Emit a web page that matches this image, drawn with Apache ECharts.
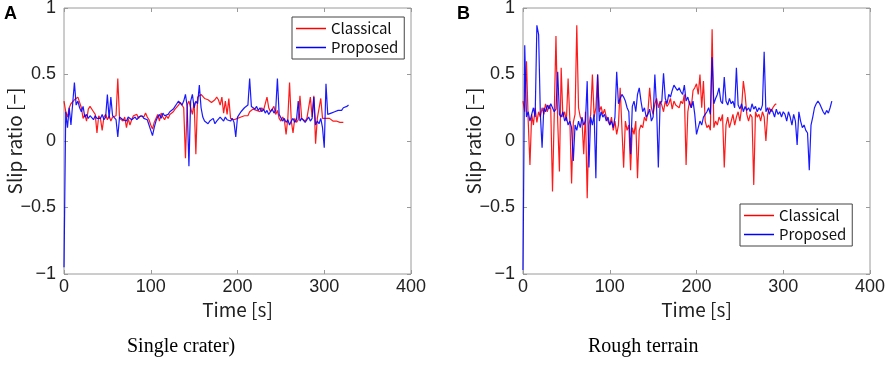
<!DOCTYPE html>
<html>
<head>
<meta charset="utf-8">
<script src="https://cdn.jsdelivr.net/npm/echarts@6/dist/echarts.min.js"></script>
<style>
  html, body { margin: 0; padding: 0; background: #fff; }
  #chart { width: 886px; height: 375px; }
</style>
</head>
<body>
<div id="chart"></div>
<script>
// sampling step of all series [s]
var TIME_STEP = 2;

var seriesNames = ['Classical', 'Proposed'];
var xTicks = [0, 100, 200, 300, 400];
var yTicks = [-1, -0.5, 0, 0.5, 1];
var panelTitles = ['Single crater)', 'Rough terrain'];

// (A) single crater, t = 0 .. 322 s
var aClassicalSlip = [
  0.30, 0.22, 0.18, 0.25, 0.28, 0.27, 0.31, 0.30, 0.33, 0.29,
  0.25, 0.17, 0.20, 0.15, 0.24, 0.26, 0.25, 0.22, 0.20, 0.06,
  0.19, 0.17, 0.08, 0.18, 0.20, 0.16, 0.19, 0.15, 0.18, 0.17,
  0.19, 0.47, 0.17, 0.18, 0.15, 0.18, 0.10, 0.17, 0.12, 0.16,
  0.19, 0.18, 0.20, 0.17, 0.19, 0.20, 0.18, 0.21, 0.18, 0.16,
  0.12, 0.09, 0.14, 0.17, 0.20, 0.15, 0.21, 0.18, 0.16, 0.19,
  0.17, 0.20, 0.19, 0.22, 0.24, 0.23, 0.27, 0.29, 0.28, 0.25,
  -0.13, 0.27, 0.30, 0.25, 0.20, 0.29, -0.10, 0.33, 0.32, 0.35,
  0.34, 0.32, 0.33, 0.31, 0.30, 0.29, 0.30, 0.31, 0.33, 0.31,
  0.27, 0.33, 0.21, 0.30, 0.20, 0.32, 0.17, 0.18, 0.16, 0.15,
  0.17, 0.16, 0.18, 0.17, 0.19, 0.20, 0.19, 0.22, 0.21, 0.24,
  0.25, 0.23, 0.24, 0.22, 0.25, 0.23, 0.24, 0.33, 0.25, 0.22,
  0.24, 0.26, 0.20, 0.23, 0.17, 0.15, 0.18, 0.16, 0.05, 0.17,
  0.44, 0.15, 0.06, 0.17, 0.14, 0.16, 0.34, 0.17, 0.18, 0.15,
  0.17, 0.16, 0.33, 0.18, 0.34, -0.02, 0.17, 0.18, 0.32, 0.17,
  0.16, 0.17, 0.16, 0.17, 0.16, 0.15, 0.16, 0.15, 0.15, 0.14,
  0.14, 0.14
];
// t = 0 .. 328 s
var aProposedSlip = [
  -0.95, 0.22, 0.10, 0.25, 0.12, 0.28, 0.44, 0.27, 0.30, 0.25,
  0.22, 0.26, 0.18, 0.20, 0.17, 0.19, 0.18, 0.16, 0.19, 0.17,
  0.18, 0.17, 0.20, 0.16, 0.18, 0.35, 0.17, 0.33, 0.19, 0.18,
  0.16, 0.03, 0.18, 0.17, 0.16, 0.17, 0.15, 0.18, 0.17, 0.16,
  0.17, 0.18, 0.16, 0.18, 0.17, 0.19, 0.17, 0.18, 0.16, 0.12,
  0.08, 0.04, 0.10, 0.15, 0.18, 0.20, 0.17, 0.21, 0.19, 0.18,
  0.20, 0.22, 0.21, 0.24, 0.26, 0.28, 0.30, 0.29, 0.27, 0.30,
  0.35, 0.26, -0.19, 0.30, 0.35, 0.25, 0.30, 0.28, 0.42, 0.25,
  0.18, 0.15, 0.16, 0.13, 0.15, 0.14, 0.17, 0.13, 0.15, 0.16,
  0.18, 0.17, 0.15, 0.18, 0.16, 0.17, 0.15, 0.17, 0.14, 0.03,
  0.18, 0.20, 0.22, 0.21, 0.25, 0.24, 0.27, 0.47, 0.26, 0.25,
  0.24, 0.26, 0.23, 0.25, 0.22, 0.24, 0.21, 0.23, 0.20, 0.22,
  0.24, 0.21, 0.23, 0.47, 0.20, 0.19, 0.15, 0.17, 0.14, 0.16,
  0.12, 0.15, 0.17, 0.14, 0.16, 0.30, 0.15, 0.17, 0.18, 0.14,
  0.16, 0.18, 0.15, 0.17, 0.33, 0.12, 0.15, 0.13, 0.17, 0.10,
  -0.05, 0.43, 0.20, 0.19, 0.21, 0.20, 0.22, 0.21, 0.23, 0.24,
  0.23, 0.25, 0.24, 0.26, 0.27
];

// (B) rough terrain, t = 0 .. 292 s
var bClassicalSlip = [
  0.30, 0.22, 0.60, 0.15, -0.18, 0.20, 0.12, 0.25, 0.14, 0.22,
  0.18, 0.25, 0.20, 0.28, 0.22, 0.27, 0.24, -0.38, 0.20, 0.79,
  0.15, -0.23, 0.55, 0.18, 0.22, 0.15, 0.47, 0.16, -0.32, 0.14,
  0.20, 0.87, 0.25, 0.18, 0.15, -0.10, 0.22, -0.43, 0.12, 0.20,
  0.50, 0.18, 0.25, 0.50, 0.22, 0.26, 0.20, 0.24, 0.18, 0.15,
  0.12, 0.18, 0.08, 0.15, 0.05, 0.12, 0.40, 0.10, -0.20, 0.15,
  0.08, 0.12, -0.22, 0.10, 0.05, 0.15, -0.28, 0.08, 0.12, 0.10,
  0.18, 0.15, 0.22, 0.40, 0.25, 0.20, 0.28, 0.32, 0.25, 0.30,
  0.27, 0.22, 0.30, 0.26, 0.28, 0.32, 0.24, 0.30, 0.27, 0.28,
  0.25, 0.30, 0.28, 0.35, -0.18, 0.22, 0.30, 0.25, 0.38, 0.40,
  0.43, 0.35, 0.50, 0.25, 0.45, 0.15, 0.10, 0.12, 0.08, 0.84,
  0.10, 0.15, 0.12, 0.18, 0.15, 0.20, -0.20, 0.12, 0.18, 0.10,
  0.15, 0.20, 0.12, 0.18, 0.22, 0.15, 0.25, 0.45, 0.35, 0.20,
  0.15, 0.20, 0.18, -0.33, 0.22, 0.18, 0.20, 0.15, 0.22, 0.18,
  0.00, 0.20, 0.25, 0.22, 0.25, 0.27, 0.28
];
// t = 0 .. 356 s
var bProposedSlip = [
  -0.97, 0.72, 0.18, 0.22, 0.15, 0.20, 0.25, 0.18, 0.87, 0.80,
  0.20, -0.05, 0.25, 0.22, 0.27, 0.24, 0.28, 0.25, 0.22, 0.24,
  0.52, 0.20, 0.18, 0.22, 0.15, 0.18, 0.12, 0.15, 0.10, -0.15,
  0.12, 0.08, 0.15, 0.10, 0.18, 0.12, 0.15, 0.45, -0.20, 0.18,
  0.12, 0.20, -0.28, 0.50, 0.15, 0.22, 0.18, 0.20, 0.15, 0.18,
  0.12, 0.15, 0.10, 0.18, 0.52, 0.28, 0.32, 0.35, 0.33, 0.30,
  0.25, 0.22, -0.10, 0.26, 0.30, 0.22, 0.35, 0.40, 0.30, 0.22,
  0.25, 0.18, 0.20, 0.24, 0.15, 0.18, 0.50, 0.25, -0.20, 0.28,
  0.30, 0.51, 0.32, 0.28, 0.35, 0.33, 0.38, 0.42, 0.40, 0.38,
  0.40, 0.37, 0.35, 0.42, 0.30, 0.33, 0.28, 0.25, 0.30, 0.20,
  0.05, 0.10, 0.15, 0.12, 0.18, 0.20, 0.22, 0.25, 0.20, 0.63,
  0.28, 0.32, 0.35, 0.40, 0.30, 0.28, 0.48, 0.30, 0.27, 0.32,
  0.28, 0.30, 0.25, 0.55, 0.27, 0.24, 0.28, 0.22, 0.26, 0.23,
  0.25, 0.22, 0.28, 0.24, 0.26, 0.22, 0.25, 0.23, 0.27, 0.67,
  0.22, 0.25, 0.20, 0.24, 0.22, 0.18, 0.24, 0.20, 0.22, 0.18,
  0.22, 0.20, 0.15, 0.22, 0.18, 0.12, 0.20, 0.15, -0.03, 0.22,
  0.15, 0.10, 0.12, 0.08, 0.06, -0.22, 0.12, 0.18, 0.25, 0.28,
  0.30, 0.28, 0.25, 0.22, 0.20, 0.23, 0.21, 0.25, 0.30
];

var AXIS_GREY = '#9a9a9a';
var TEXT_COLOR = '#222';
var LABEL_FONT = 'Liberation Sans';
var NAME_FONT = 'Noto Sans CJK JP';

function toPoints(values) {
  return values.map(function (v, i) { return [i * TIME_STEP, v]; });
}
function minusSign(v) {
  return String(v).replace('-', '\u2212');
}

var tickStyle = { inside: true, length: 4, lineStyle: { color: AXIS_GREY } };

function mainX(gi) {
  return {
    type: 'value', gridIndex: gi, min: xTicks[0], max: xTicks[xTicks.length - 1], interval: 100,
    name: 'Time [s]', nameLocation: 'middle', nameGap: 26, nameMoveOverlap: false,
    nameTextStyle: { color: TEXT_COLOR, fontSize: 19, fontFamily: NAME_FONT },
    axisLine: { show: false, onZero: false },
    axisTick: tickStyle,
    axisLabel: { color: TEXT_COLOR, fontSize: 18, fontFamily: LABEL_FONT, margin: 4, formatter: minusSign },
    splitLine: { show: false }
  };
}
function mainY(gi) {
  return {
    type: 'value', gridIndex: gi, min: yTicks[0], max: yTicks[yTicks.length - 1], interval: 0.5,
    name: 'Slip ratio [\u2212]', nameLocation: 'middle', nameGap: 40, nameMoveOverlap: false,
    nameTextStyle: { color: TEXT_COLOR, fontSize: 19, fontFamily: NAME_FONT },
    axisLine: { show: false, onZero: false },
    axisTick: tickStyle,
    axisLabel: { color: TEXT_COLOR, fontSize: 18, fontFamily: LABEL_FONT, margin: 8, formatter: minusSign },
    splitLine: { show: false }
  };
}
// box ticks on top / right like the matlab axes
function mirrorX(gi) {
  return {
    type: 'value', gridIndex: gi, position: 'top', min: 0, max: 400, interval: 100,
    axisLine: { show: false, onZero: false }, axisLabel: { show: false }, splitLine: { show: false },
    axisTick: tickStyle
  };
}
function mirrorY(gi) {
  return {
    type: 'value', gridIndex: gi, position: 'right', min: -1, max: 1, interval: 0.5,
    axisLine: { show: false, onZero: false }, axisLabel: { show: false }, splitLine: { show: false },
    axisTick: tickStyle
  };
}

function lineSeries(name, values, axisIdx, color) {
  return {
    name: name, type: 'line', xAxisIndex: axisIdx, yAxisIndex: axisIdx,
    data: toPoints(values), symbol: 'none', showSymbol: false,
    lineStyle: { color: color, width: 1.2, opacity: 0.9 },
    itemStyle: { color: color }
  };
}

function legendAt(left, top) {
  return {
    data: seriesNames, orient: 'vertical', left: left, top: top,
    backgroundColor: '#fff', borderColor: '#444', borderWidth: 1,
    padding: [3, 6, 3, 4], itemGap: 2, itemWidth: 30, itemHeight: 1.5,
    icon: 'rect',
    textStyle: { color: '#111', fontSize: 15, fontFamily: NAME_FONT, lineHeight: 17 },
    selectedMode: false
  };
}

var chart = echarts.init(document.getElementById('chart'));
var option = {
  backgroundColor: '#fff',
  animation: false,
  grid: [
    { left: 64, top: 8, width: 347, height: 266, outerBoundsMode: 'none', containLabel: false,
      show: true, borderColor: AXIS_GREY, borderWidth: 1, backgroundColor: '#fff' },
    { left: 523, top: 8, width: 347, height: 266, outerBoundsMode: 'none', containLabel: false,
      show: true, borderColor: AXIS_GREY, borderWidth: 1, backgroundColor: '#fff' }
  ],
  xAxis: [mainX(0), mainX(1), mirrorX(0), mirrorX(1)],
  yAxis: [mainY(0), mainY(1), mirrorY(0), mirrorY(1)],
  legend: [legendAt(292, 17), legendAt(740, 204)],
  series: [
    lineSeries(seriesNames[0], aClassicalSlip, 0, '#ff0000'),
    lineSeries(seriesNames[1], aProposedSlip, 0, '#0000ff'),
    lineSeries(seriesNames[0], bClassicalSlip, 1, '#ff0000'),
    lineSeries(seriesNames[1], bProposedSlip, 1, '#0000ff')
  ],
  graphic: [
    { type: 'text', left: 4, top: 5, style: { text: 'A', fill: '#000', font: 'bold 18px Liberation Sans' } },
    { type: 'text', left: 457, top: 5, style: { text: 'B', fill: '#000', font: 'bold 18px Liberation Sans' } },
    { type: 'text', left: 127, top: 337, style: { text: panelTitles[0], fill: '#000', font: '20px Liberation Serif' } },
    { type: 'text', left: 588, top: 337, style: { text: panelTitles[1], fill: '#000', font: '20px Liberation Serif' } }
  ]
};
chart.setOption(option);
</script>
</body>
</html>
